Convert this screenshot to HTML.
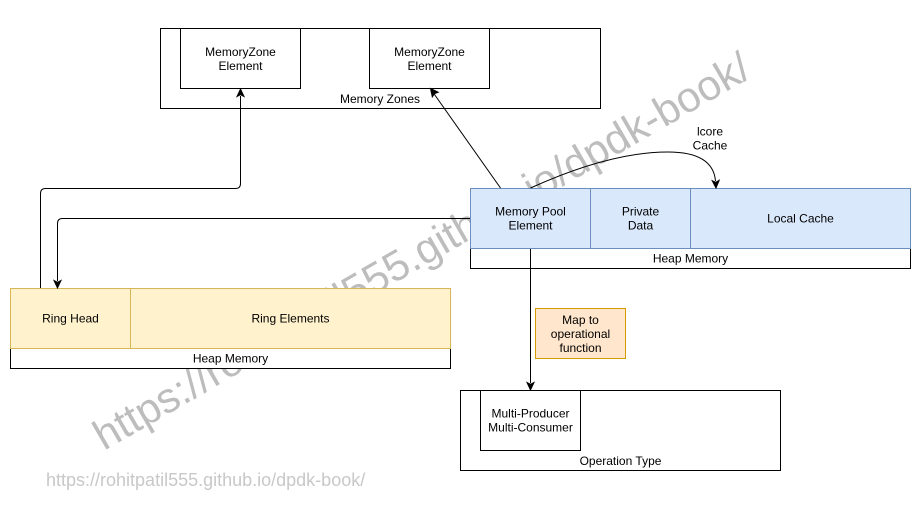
<!DOCTYPE html>
<html><head><meta charset="utf-8"><style>
html,body{margin:0;padding:0;background:#fff;}
svg{display:block;}
text{font-family:"Liberation Sans",Arial,sans-serif;}
</style></head><body>
<svg width="921" height="521" viewBox="0 0 921 521" xmlns="http://www.w3.org/2000/svg">
<rect x="0" y="0" width="921" height="521" fill="#fff"/>
<!-- watermark -->
<text x="104" y="451" font-size="42.3" fill="#bdbdbd" transform="rotate(-30 104 451)">https://rohitpatil555.github.io/dpdk-book/</text>
<text x="46" y="486" font-size="18" fill="#c8c8c8">https://rohitpatil555.github.io/dpdk-book/</text>

<g font-size="12" fill="#000" text-anchor="middle">
<!-- Memory Zones -->
<rect x="160.5" y="28.5" width="440" height="80" fill="#fff" stroke="#000"/>
<rect x="180.5" y="28.5" width="120" height="60" fill="#fff" stroke="#000"/>
<rect x="369.5" y="28.5" width="120" height="60" fill="#fff" stroke="#000"/>
<text x="240.5" y="56">MemoryZone</text>
<text x="240.5" y="70">Element</text>
<text x="429.5" y="56">MemoryZone</text>
<text x="429.5" y="70">Element</text>
<text x="380" y="103">Memory Zones</text>

<!-- Heap memory (pool) -->
<rect x="470.5" y="188.5" width="440" height="80" fill="#fff" stroke="#000"/>
<rect x="470.5" y="188.5" width="120" height="60" fill="#dae8fc" stroke="#6c8ebf"/>
<rect x="590.5" y="188.5" width="100" height="60" fill="#dae8fc" stroke="#6c8ebf"/>
<rect x="690.5" y="188.5" width="220" height="60" fill="#dae8fc" stroke="#6c8ebf"/>
<text x="530.5" y="215.5">Memory Pool</text>
<text x="530.5" y="229.5">Element</text>
<text x="640.5" y="215.5">Private</text>
<text x="640.5" y="229.5">Data</text>
<text x="800.5" y="222.5">Local Cache</text>
<text x="690.5" y="262.5">Heap Memory</text>

<!-- Ring -->
<rect x="10.5" y="288.5" width="440" height="80" fill="#fff" stroke="#000"/>
<rect x="10.5" y="288.5" width="120" height="60" fill="#fff2cc" stroke="#d6b656"/>
<rect x="130.5" y="288.5" width="320" height="60" fill="#fff2cc" stroke="#d6b656"/>
<text x="70.5" y="322.5">Ring Head</text>
<text x="290.5" y="322.5">Ring Elements</text>
<text x="230.5" y="362.5">Heap Memory</text>

<!-- Map box -->
<rect x="535.5" y="308.5" width="90" height="50" fill="#ffe6cc" stroke="#d79b00"/>
<text x="580.5" y="324">Map to</text>
<text x="580.5" y="338">operational</text>
<text x="580.5" y="352">function</text>

<!-- Operation type -->
<rect x="460.5" y="390.5" width="320" height="80" fill="#fff" stroke="#000"/>
<rect x="480.5" y="390.5" width="100" height="60" fill="#fff" stroke="#000"/>
<text x="530.5" y="417.5">Multi-Producer</text>
<text x="530.5" y="431.5">Multi-Consumer</text>
<text x="620.5" y="465">Operation Type</text>

<!-- lcore cache label -->
<text x="710" y="135.5">lcore</text>
<text x="710" y="149.5">Cache</text>
</g>

<!-- connectors -->
<g fill="none" stroke="#000" stroke-width="1">
<path d="M40.5 288 L40.5 193.5 Q40.5 188.5 45.5 188.5 L235.5 188.5 Q240.5 188.5 240.5 183.5 L240.5 96"/>
<path d="M470 218.5 L62.5 218.5 Q57.5 218.5 57.5 223.5 L57.5 281"/>
<path d="M500.5 188 L434.5 94.5"/>
<path d="M530.5 188 Q610 152 668 152 Q713 152 715.5 181"/>
<path d="M530.5 249 L530.5 383"/>
</g>
<g fill="#000" stroke="#000" stroke-width="1" stroke-linejoin="miter">
<path d="M240.5 89 L244 96.5 L240.5 94.7 L237 96.5 Z"/>
<path d="M57.5 288 L54 280.5 L57.5 282.3 L61 280.5 Z"/>
<path d="M530.5 390 L527 382.5 L530.5 384.3 L534 382.5 Z"/>
<path d="M716 188 L712.2 180.7 L715.7 182.3 L719.2 180.3 Z"/>
<path d="M430.5 88.5 L438.2 92.2 L434.6 93.6 L432.3 96.9 Z"/>
</g>
</svg>
</body></html>
